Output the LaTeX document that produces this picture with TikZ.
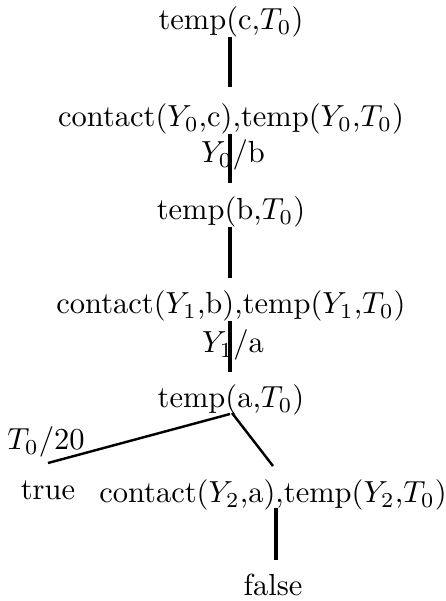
\documentclass[tikz,border=0pt]{standalone}
\tikzset{
  goal/.style={inner sep=0pt, outer sep=0pt, anchor=center},
  edge/.style={line width=1.1pt, line cap=butt},
  slant/.style={line width=0.8pt, line cap=butt},
  lbl/.style={inner sep=0pt, anchor=center}
}
\begin{document}
\begin{tikzpicture}[x=0.328pt, y=-0.328pt]
\useasboundingbox (0,0) rectangle (446,601);
\node[goal] (n1) at (231,22) {temp(c,$T_0$)};
\node[goal] (n2) at (231,119) {contact($Y_0$,c),temp($Y_0$,$T_0$)};
\node[goal] (n3) at (231,212) {temp(b,$T_0$)};
\node[goal] (n4) at (231,306) {contact($Y_1$,b),temp($Y_1$,$T_0$)};
\node[goal] (n5) at (231,400) {temp(a,$T_0$)};
\node[goal] (t) at (48,490) {true};
\node[goal] (n6) at (273,495) {contact($Y_2$,a),temp($Y_2$,$T_0$)};
\node[goal] (f) at (273,585) {false};
\coordinate (e1) at (230,87);
\coordinate (e2) at (230,183);
\coordinate (e3) at (230,278);
\coordinate (e4) at (230,372);
\coordinate (s5) at (230,414);
\coordinate (e5a) at (48,463);
\coordinate (s5b) at (232,413);
\coordinate (e5b) at (273,466);
\coordinate (s6) at (276,508);
\coordinate (e6) at (276,560);
\draw[edge] (n1.south -| e1) -- (e1);
\draw[edge] (n2.south -| e2) -- (e2);
\draw[edge] (n3.south -| e3) -- (e3);
\draw[edge] (n4.south -| e4) -- (e4);
\draw[slant] (s5) -- (e5a);
\draw[slant] (s5b) -- (e5b);
\draw[edge] (s6) -- (e6);
\node[lbl] (l1) at (233,155) {$Y_0$/b};
\node[lbl] (l2) at (233,345) {$Y_1$/a};
\node[lbl] (l3) at (46,442) {$T_0$/20};
\end{tikzpicture}
\end{document}
